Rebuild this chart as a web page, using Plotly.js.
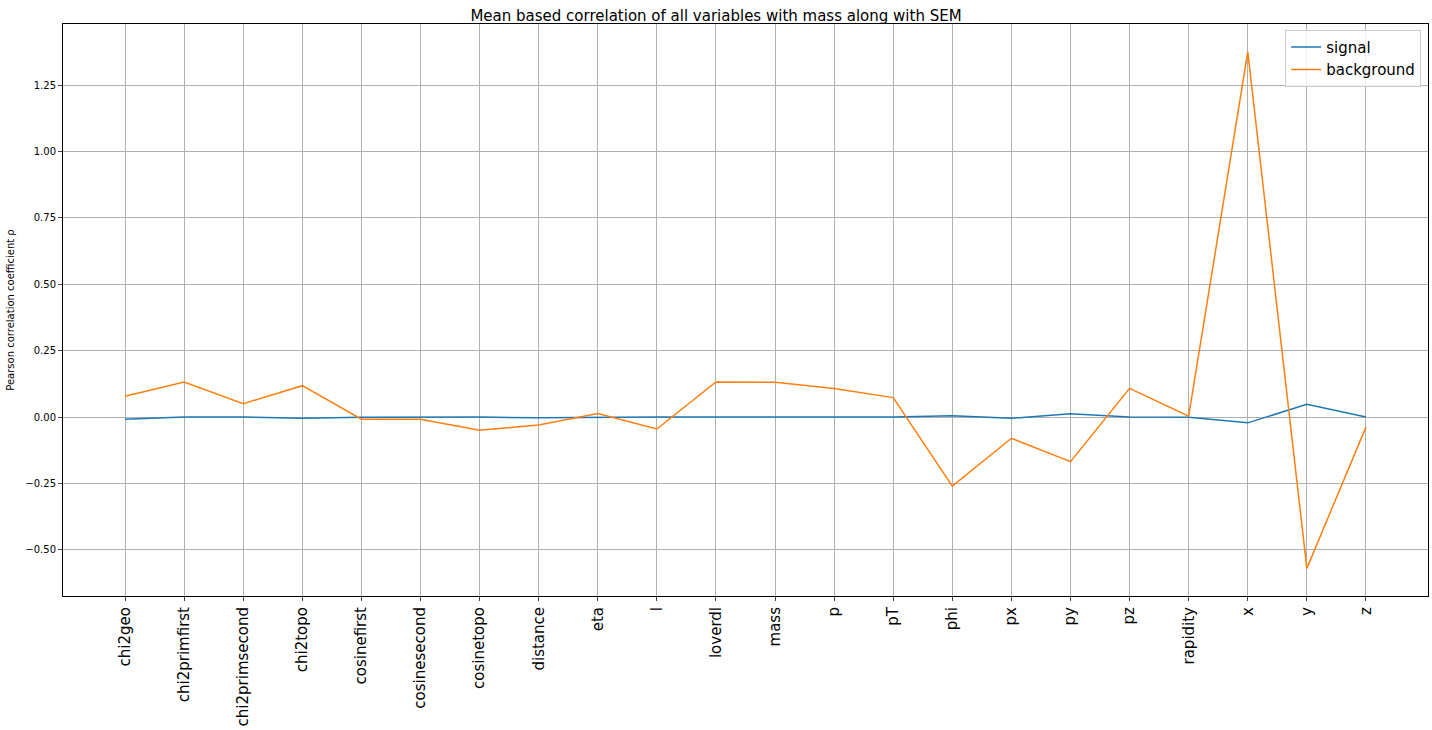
<!DOCTYPE html>
<html>
<head>
<meta charset="utf-8">
<script src="https://cdn.plot.ly/plotly-3.0.1.min.js"></script>
<style>body{margin:0;background:#fff}#plot{width:1432px;height:730px}</style>
</head>
<body>
<div id="plot"></div>
<script>
const variables = ['chi2geo','chi2primfirst','chi2primsecond','chi2topo','cosinefirst','cosinesecond',
  'cosinetopo','distance','eta','l','loverdl','mass','p','pT','phi','px','py','pz','rapidity','x','y','z'];
const signal = [-0.008,0,0,-0.005,-0.001,-0.001,0,-0.003,-0.001,0,0,0,0,0,0.005,-0.005,0.012,0,-0.001,-0.022,0.048,0];
const background = [0.078,0.132,0.05,0.118,-0.008,-0.008,-0.05,-0.03,0.013,-0.045,0.132,0.131,0.107,0.073,
  -0.26,-0.08,-0.168,0.108,0.003,1.375,-0.57,-0.038];

const idx = variables.map((_, i) => i);

const data = [
  {x: idx, y: signal, type: 'scatter', mode: 'lines', name: 'signal',
   line: {color: '#1f77b4', width: 1.5}},
  {x: idx, y: background, type: 'scatter', mode: 'lines', name: 'background',
   line: {color: '#ff7f0e', width: 1.5}}
];

const layout = {
  width: 1432, height: 730,
  margin: {l: 63, r: 4, t: 24, b: 134},
  font: {family: 'DejaVu Sans', color: '#000'},
  paper_bgcolor: '#fff', plot_bgcolor: '#fff',
  title: {text: 'Mean based correlation of all variables with mass along with SEM',
          font: {size: 15}, x: 0.5, xanchor: 'center', y: 0.985, yanchor: 'top'},
  xaxis: {
    range: [-1.05, 22.05], tickvals: idx, ticktext: variables, tickangle: -90,
    tickfont: {size: 15}, showgrid: true, gridcolor: '#b0b0b0', gridwidth: 1,
    ticks: 'outside', ticklen: 4, zeroline: false, showline: true, mirror: true, linecolor: '#000'
  },
  yaxis: {
    range: [-0.674, 1.48], tickvals: [-0.5,-0.25,0,0.25,0.5,0.75,1,1.25],
    ticktext: ['−0.50','−0.25','0.00','0.25','0.50','0.75','1.00','1.25'],
    tickfont: {size: 10}, showgrid: true, gridcolor: '#b0b0b0', gridwidth: 1,
    ticks: 'outside', ticklen: 4, zeroline: false, showline: true, mirror: true, linecolor: '#000',
    title: {text: 'Pearson correlation coefficient ρ', font: {size: 10}, standoff: 8}
  },
  legend: {x: 0.995, y: 0.99, xanchor: 'right', yanchor: 'top', font: {size: 15},
           bordercolor: '#ccc', borderwidth: 1, bgcolor: 'rgba(255,255,255,0.8)'},
  showlegend: true
};

Plotly.newPlot('plot', data, layout, {displayModeBar: false});
</script>
</body>
</html>
